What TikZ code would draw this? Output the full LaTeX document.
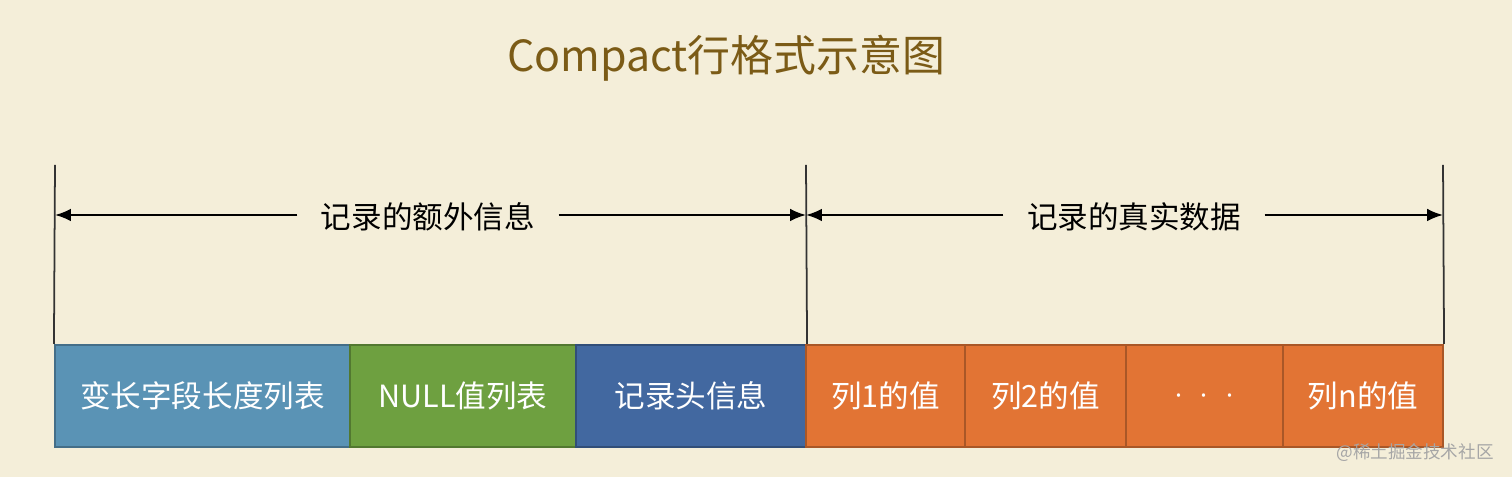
\documentclass[tikz,border=0pt]{standalone}
\usepackage{fontspec}
\setmainfont{Noto Sans CJK SC}
\usepackage{tikz}
\usetikzlibrary{positioning, arrows.meta}

\definecolor{bgcol}{HTML}{F4EED9}
\definecolor{titlecol}{HTML}{7B5B16}
\definecolor{lencol}{HTML}{5A93B5}
\definecolor{nullcol}{HTML}{6EA040}
\definecolor{headcol}{HTML}{4268A0}
\definecolor{colcol}{HTML}{E27434}

\tikzset{
    field/.style={rectangle, draw=#1!75!black, fill=#1, line width=0.6pt,
        minimum height=10.2mm, inner sep=0pt, text=white,
        font=\fontsize{8.7pt}{10pt}\selectfont},
    part/.style={inner sep=0pt, inner xsep=2.3mm,
        font=\fontsize{8.7pt}{10pt}\selectfont},
    edge/.style={line width=0.5pt, draw=black!80},
    span/.style={line width=0.6pt, -{Latex[length=4.5pt, width=3.6pt]}}
}

\begin{document}
\begin{tikzpicture}[x=0.1mm, y=-0.1mm]
        \fill [bgcol] (0, 0) rectangle (1512, 477);
        \useasboundingbox (0, 0) rectangle (1512, 477);

        \node [text=titlecol, font=\fontsize{12.2pt}{14pt}\selectfont] (title) at (726, 58) {Compact行格式示意图};

        % the fields of one row
        \node [field=lencol, minimum width=29.5mm] (len) at (202.5, 396) {变长字段长度列表};
        \node [field=nullcol, minimum width=22.6mm] (null) at (463, 396) {NULL值列表};
        \node [field=headcol, minimum width=23mm] (head) at (691, 396) {记录头信息};
        \node [field=colcol, minimum width=15.9mm] (c1) at (885.5, 396) {列1的值};
        \node [field=colcol, minimum width=16.1mm] (c2) at (1045.5, 396) {列2的值};
        \node [field=colcol, minimum width=15.7mm] (cdots) at (1204.5, 396) {$\cdot\;\cdot\;\cdot$};
        \node [field=colcol, minimum width=16mm] (cn) at (1363, 396) {列n的值};

        % the two spans above
        \coordinate (t0) at (55, 165);
        \coordinate (t1) at (806, 165);
        \coordinate (t2) at (1443, 165);
        \coordinate (a0) at (55, 215);
        \coordinate (a1) at (806, 215);
        \coordinate (a2) at (1443, 215);

        \draw [edge] (t0) -- (len.north west);
        \draw [edge] (t1) -- (head.north east);
        \draw [edge] (t2) -- (cn.north east);

        \node [part] (extra) at (428, 217) {记录的额外信息};
        \node [part] (real) at (1134, 217) {记录的真实数据};

        \draw [span] (extra.west |- a0) -- (a0);
        \draw [span] (extra.east |- a1) -- (a1);
        \draw [span] (real.west |- a1) -- (a1);
        \draw [span] (real.east |- a2) -- (a2);

        \node [text=black!35, font=\fontsize{5pt}{6pt}\selectfont] (mark) at (1415, 453) {@稀土掘金技术社区};
    \end{tikzpicture}
\end{document}
